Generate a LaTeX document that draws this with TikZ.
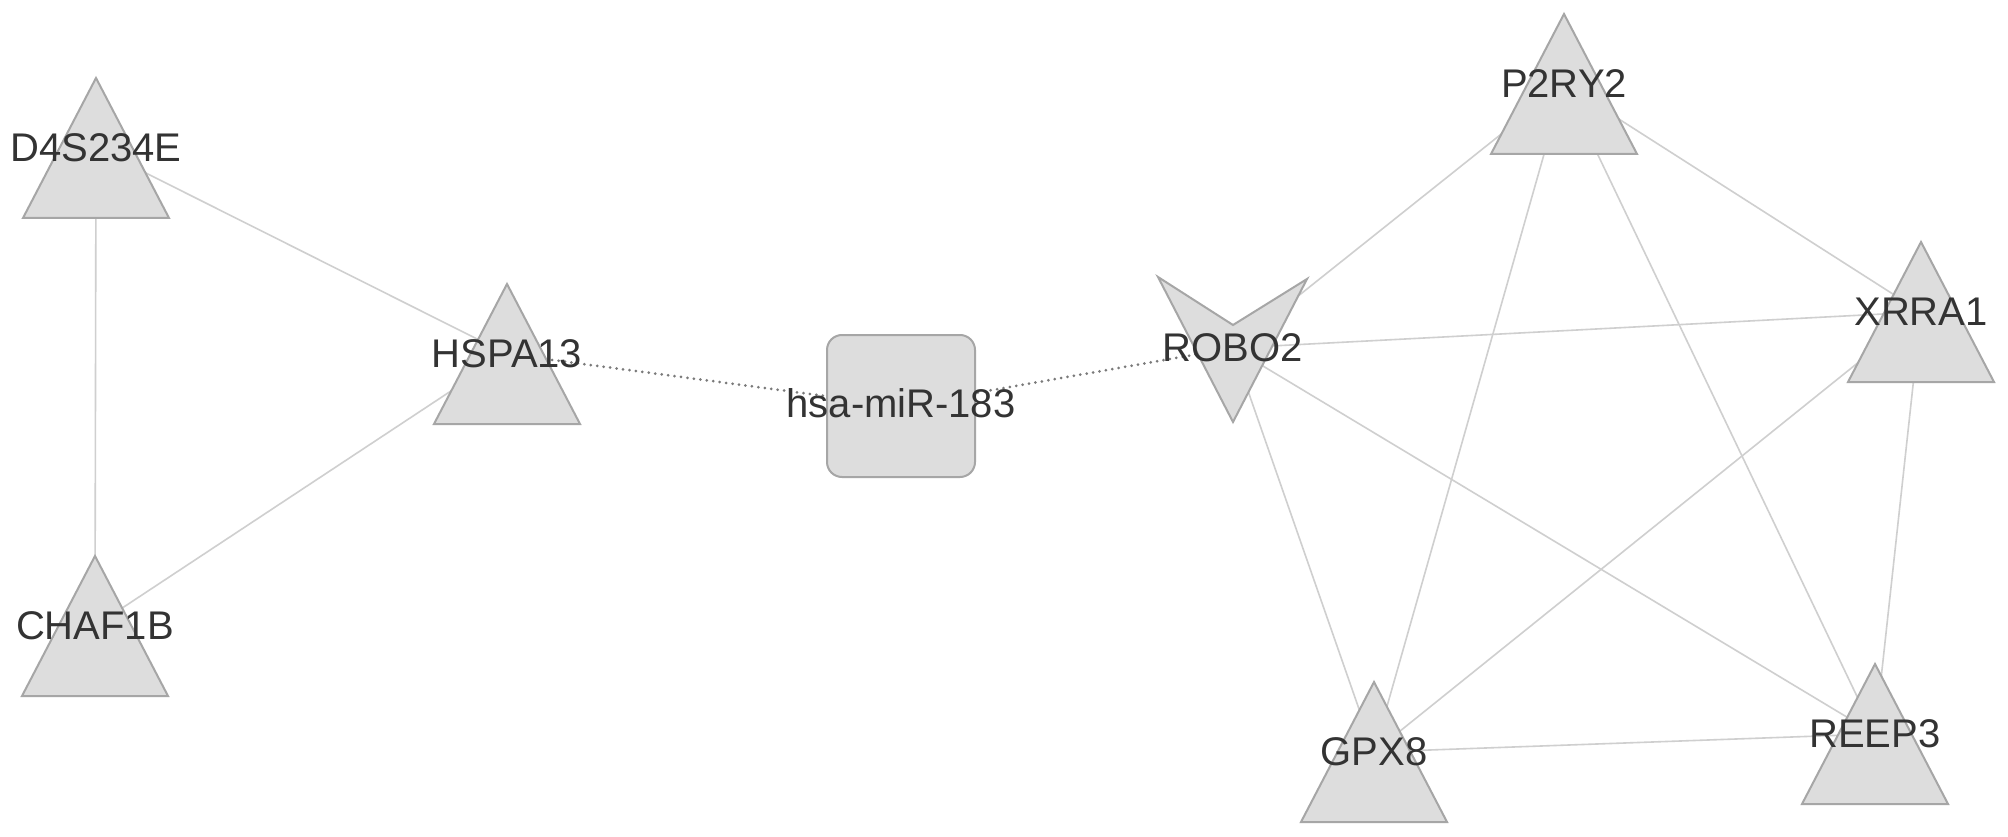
\documentclass[tikz,border=0pt]{standalone}
\usepackage{fontspec}
\setmainfont{Liberation Sans}
\definecolor{nodefill}{HTML}{DDDDDD}
\definecolor{nodeline}{HTML}{A6A6A6}
\definecolor{edgecol}{HTML}{CFCFCF}
\definecolor{dotcol}{HTML}{7A7A7A}
\definecolor{txt}{HTML}{333333}
\begin{document}
\begin{tikzpicture}[x=1pt,y=-1pt,
 lbl/.style={inner sep=0pt, text=txt, font=\fontsize{40}{42}\selectfont},
 shapebox/.style={fill=nodefill, draw=nodeline, line width=2pt, line join=miter},
 edge/.style={draw=edgecol, line width=1.6pt},
 dotedge/.style={draw=dotcol, line width=3pt, line cap=round, dash pattern=on 0pt off 6.5pt}]
\useasboundingbox (0,0) rectangle (2008,837);
\fill[white] (0,0) rectangle (2008,837);
% centre coordinates
\coordinate (cD) at (96,148);
\coordinate (cC) at (95,626);
\coordinate (cH) at (507,354);
\coordinate (cM) at (901,406);
\coordinate (cR) at (1233,348);
\coordinate (cP) at (1564,84);
\coordinate (cX) at (1921,312);
\coordinate (cG) at (1374,752);
\coordinate (cE) at (1875,734);
% edges
\draw[edge] (cD) -- (cH);
\draw[edge] (cD) -- (cC);
\draw[edge] (cC) -- (cH);
\draw[edge] (cR) -- (cP);
\draw[edge] (cR) -- (cX);
\draw[edge] (cR) -- (cG);
\draw[edge] (cR) -- (cE);
\draw[edge] (cP) -- (cG);
\draw[edge] (cP) -- (cE);
\draw[edge] (cP) -- (cX);
\draw[edge] (cX) -- (cG);
\draw[edge] (cX) -- (cE);
\draw[edge] (cG) -- (cE);
\draw[dotedge] (cH) -- (cM);
\draw[dotedge] (cM) -- (cR);
% shapes
\foreach \c in {cD,cC,cH,cP,cX,cG,cE}{
  \path[shapebox] (\c) ++(-73,70) -- ++(73,-140) -- ++(73,140) -- cycle;
}
\path[shapebox] (cR) ++(-75,-71) -- ++(75,48) -- ++(74,-46) -- ++(-74,143) -- cycle;
\path[shapebox, rounded corners=15pt] (cM) ++(-74,-71) rectangle ++(148,142);
% labels
\node[lbl] (D4S234E) at (cD) {D4S234E};
\node[lbl] (CHAF1B) at (cC) {CHAF1B};
\node[lbl] (HSPA13) at (cH) {HSPA13};
\node[lbl] (miR) at ([yshift=3pt]cM) {hsa-miR-183};
\node[lbl] (ROBO2) at (cR) {ROBO2};
\node[lbl] (P2RY2) at (cP) {P2RY2};
\node[lbl] (XRRA1) at (cX) {XRRA1};
\node[lbl] (GPX8) at (cG) {GPX8};
\node[lbl] (REEP3) at (cE) {REEP3};
\end{tikzpicture}
\end{document}
